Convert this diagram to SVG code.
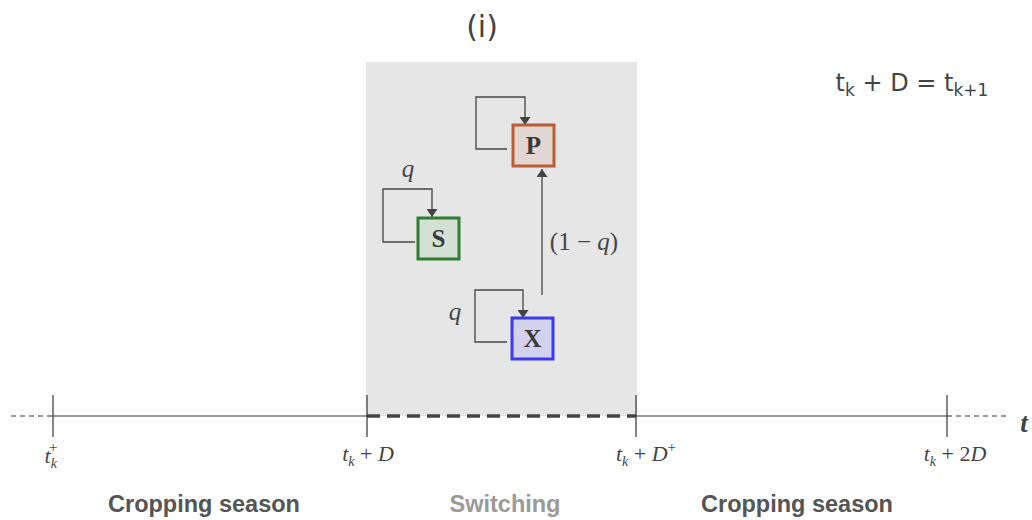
<svg xmlns="http://www.w3.org/2000/svg" width="1032" height="520" viewBox="0 0 1032 520">
<style>
.ln{stroke:#444;stroke-width:1.3;fill:none}
.ax{stroke:#333;stroke-width:1.2;fill:none}
.math{font-family:"Liberation Serif","DejaVu Serif",serif;font-style:italic;fill:#444}
.lbl{font-family:"Liberation Serif","DejaVu Serif",serif;font-weight:bold;font-size:25px;fill:#3a3a3a;text-anchor:middle}
.season{font-family:"Liberation Sans",Arial,sans-serif;font-weight:bold;font-size:23.5px;text-anchor:middle}
.sans{font-family:"DejaVu Sans","Noto Sans",sans-serif;fill:#444}
</style>
<defs>
<marker id="ah" viewBox="0 0 10 10" refX="10" refY="5" markerWidth="8" markerHeight="11" markerUnits="userSpaceOnUse" orient="auto" preserveAspectRatio="none">
<path d="M0,0 L10,5 L0,10 z" fill="#444"/>
</marker>
</defs>
<rect width="1032" height="520" fill="#fff"/>
<rect x="366" y="62" width="271" height="354" fill="#e6e6e6"/>
<text x="482" y="37" class="sans" font-size="30" text-anchor="middle">(i)</text>
<text x="912" y="91" class="sans" font-size="24" text-anchor="middle">t<tspan font-size="17" dy="5">k</tspan><tspan dy="-5"> + D = t</tspan><tspan font-size="17" dy="5">k+1</tspan></text>
<g id="axis">
<line x1="11" y1="416" x2="53" y2="416" class="ax" stroke-dasharray="5,4"/>
<line x1="53" y1="416" x2="367" y2="416" class="ax"/>
<line x1="367" y1="416" x2="636" y2="416" stroke="#444" stroke-width="3.5" stroke-dasharray="13,7"/>
<line x1="636" y1="416" x2="947" y2="416" class="ax"/>
<line x1="947" y1="416" x2="1006" y2="416" class="ax" stroke-dasharray="5,4"/>
<line x1="53" y1="395" x2="53" y2="437" class="ax"/>
<line x1="367" y1="395" x2="367" y2="437" class="ax"/>
<line x1="636" y1="395" x2="636" y2="437" class="ax"/>
<line x1="947" y1="395" x2="947" y2="437" class="ax"/>
<text x="1024" y="432" class="math" font-size="27" font-weight="bold" text-anchor="middle" fill="#333">t</text>
<text x="51" y="463" class="math" font-size="22" text-anchor="middle">t<tspan font-size="14" dy="5">k</tspan><tspan font-size="15" font-style="normal" dx="-8" dy="-16">+</tspan></text>
<text x="368" y="461" class="math" font-size="22" text-anchor="middle">t<tspan font-size="14" dy="5">k</tspan><tspan dy="-5" font-style="normal"> + </tspan>D</text>
<text x="646" y="461" class="math" font-size="22" text-anchor="middle">t<tspan font-size="14" dy="5">k</tspan><tspan dy="-5" font-style="normal"> + </tspan>D<tspan font-size="15" font-style="normal" dy="-9">+</tspan></text>
<text x="955" y="461" class="math" font-size="22" text-anchor="middle">t<tspan font-size="14" dy="5">k</tspan><tspan dy="-5" font-style="normal"> + 2</tspan>D</text>
</g>
<text x="204" y="512" class="season" fill="#555">Cropping season</text>
<text x="505" y="512" class="season" fill="#9a9a9a">Switching</text>
<text x="797" y="512" class="season" fill="#555">Cropping season</text>
<g id="connectors">
<polyline points="507,149 476,149 476,97 525,97 525,125" class="ln" marker-end="url(#ah)"/>
<polyline points="415,242 383,242 383,189 432,189 432,217" class="ln" marker-end="url(#ah)"/>
<polyline points="507,342 475,342 475,290 523,290 523,318" class="ln" marker-end="url(#ah)"/>
<line x1="542" y1="295" x2="542" y2="169" class="ln" marker-end="url(#ah)"/>
<text x="408" y="177" class="math" font-size="25" text-anchor="middle">q</text>
<text x="455" y="320" class="math" font-size="25" text-anchor="middle">q</text>
<text x="584" y="250" class="math" font-size="25" text-anchor="middle"><tspan font-style="normal">(1 − </tspan>q<tspan font-style="normal">)</tspan></text>
</g>
<g id="P">
<rect x="513" y="125" width="41" height="41" fill="#e1d6d1" stroke="#b95e34" stroke-width="3"/>
<text x="533.5" y="154" class="lbl">P</text>
</g>
<g id="S">
<rect x="418" y="218" width="41" height="41" fill="#d3e0d3" stroke="#2e7d32" stroke-width="3"/>
<text x="438.5" y="247" class="lbl">S</text>
</g>
<g id="X">
<rect x="512" y="318" width="41" height="41" fill="#d2d2ee" stroke="#3a3af5" stroke-width="3"/>
<text x="532.5" y="347" class="lbl">X</text>
</g>
</svg>
